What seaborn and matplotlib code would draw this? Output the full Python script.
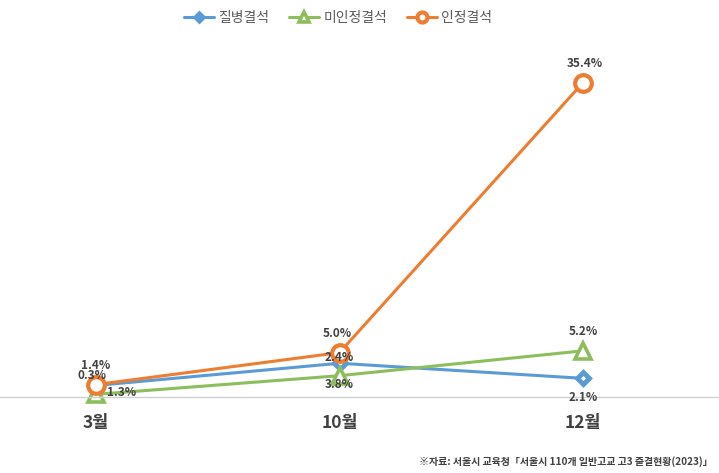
import matplotlib
matplotlib.use("Agg")
import matplotlib.pyplot as plt
import pandas as pd
import seaborn as sns

# ── Data ─────────────────────────────────────────────────────────────────────
MONTHS = ["3월", "10월", "12월"]

SICK      = [1.3, 3.8, 2.1]     # 질병결석 (plotted position)
UNEXCUSED = [0.3, 2.4, 5.2]     # 미인정결석
EXCUSED   = [1.4, 5.0, 35.4]    # 인정결석

# label texts as printed on the original chart
SICK_LABELS      = ["0.3%", "2.4%", "2.1%"]
UNEXCUSED_LABELS = ["1.3%", "3.8%", "5.2%"]
EXCUSED_LABELS   = ["1.4%", "5.0%", "35.4%"]

SOURCE = "※자료: 서울시 교육청「서울시 110개 일반고교 고3 출결현황(2023)」"

# ── Style ────────────────────────────────────────────────────────────────────
sns.set_style("white")
plt.rcParams["font.family"] = ["Noto Sans CJK KR", "DejaVu Sans"]

BLUE, GREEN, ORANGE = "#5B9BD5", "#8DBE5E", "#ED7D31"
TXT = "#404040"

fig = plt.figure(figsize=(7.19, 4.73), dpi=100)
ax = fig.add_axes([0, 1 - 397 / 473, 1, 357 / 473])

series = [
    ("질병결석", SICK, SICK_LABELS, BLUE,
     dict(marker="D", markersize=6, markerfacecolor="white",
          markeredgecolor=BLUE, markeredgewidth=3.5)),
    ("미인정결석", UNEXCUSED, UNEXCUSED_LABELS, GREEN,
     dict(marker="^", markersize=11, markerfacecolor="white",
          markeredgecolor=GREEN, markeredgewidth=2.6)),
    ("인정결석", EXCUSED, EXCUSED_LABELS, ORANGE,
     dict(marker="o", markersize=12, markerfacecolor="white",
          markeredgecolor=ORANGE, markeredgewidth=3)),
]

for name, vals, _, col, mk in series:
    df = pd.DataFrame({"month": MONTHS, "value": vals})
    sns.lineplot(data=df, x="month", y="value", ax=ax, color=col,
                 linewidth=2.2, sort=False, label=name, clip_on=False, **mk)

# data labels (pixel offsets from the point)
offsets = {
    "질병결석":  [(-4, 10), (0, 6), (0, -19)],
    "미인정결석": [(26, 2), (0, -9), (0, 19)],
    "인정결석":  [(0, 19), (-2, 19), (2, 19)],
}
for name, vals, labels, col, _ in series:
    for i, (v, lab) in enumerate(zip(vals, labels)):
        dx, dy = offsets[name][i]
        ax.annotate(lab, (i, v), xytext=(dx, dy), textcoords="offset pixels",
                    ha="center", va="center", fontsize=8.5,
                    fontweight="bold", color=TXT, annotation_clip=False)

ax.set_xlim(-96 / 243.5, 2 + 136 / 243.5)
ax.set_ylim(0, 357 / 8.88)
ax.set_xlabel("")
ax.set_ylabel("")
ax.set_yticks([])
ax.tick_params(axis="x", length=0, pad=12, labelsize=12.5, labelcolor=TXT)
for t in ax.get_xticklabels():
    t.set_fontweight("bold")
for s in ["top", "left", "right"]:
    ax.spines[s].set_visible(False)
ax.spines["bottom"].set_color("#D0D0D0")
ax.spines["bottom"].set_linewidth(1)

handles, labels = ax.get_legend_handles_labels()
ax.get_legend().remove()
fig.legend(handles, labels, loc="center", bbox_to_anchor=(0.47, 1 - 18 / 473),
           ncol=3, frameon=False, fontsize=10, labelcolor="#595959",
           handlelength=2.2, handletextpad=0.3, columnspacing=1.4,
           markerscale=0.6)

fig.text(713 / 719, 1 - 462 / 473, SOURCE, ha="right", va="center",
         fontsize=7.2, color=TXT, fontweight="bold")

fig.savefig("out.png", dpi=100)
